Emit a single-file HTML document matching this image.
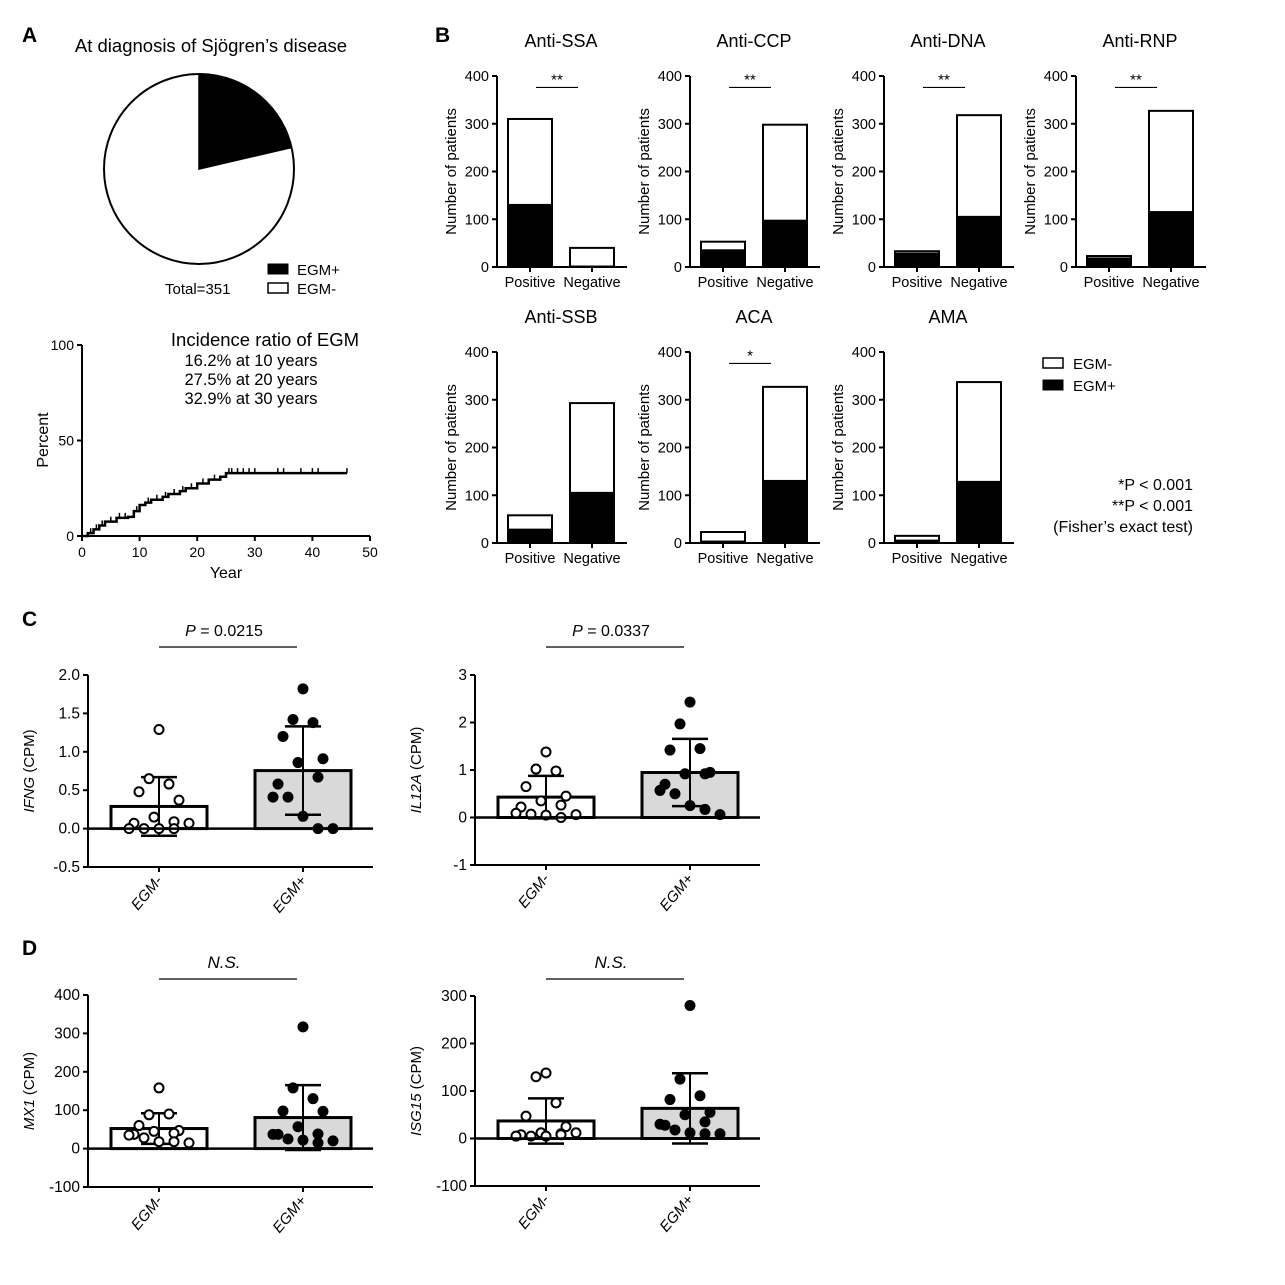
<!DOCTYPE html>
<html><head><meta charset="utf-8"><style>
body{margin:0;background:#fff}
svg{display:block;font-family:"Liberation Sans",Arial,sans-serif}
</style></head><body>
<svg id="fig" width="1285" height="1285" viewBox="0 0 1285 1285">
<rect width="1285" height="1285" fill="#fff"/>
<text x="22" y="42" font-size="21" font-weight="bold">A</text>
<text x="435" y="42" font-size="21" font-weight="bold">B</text>
<text x="22" y="626" font-size="21" font-weight="bold">C</text>
<text x="22" y="955" font-size="21" font-weight="bold">D</text>
<text x="211" y="52" font-size="18.5" text-anchor="middle">At diagnosis of Sjögren’s disease</text>
<text x="165" y="294" font-size="15">Total=351</text>
<rect x="268" y="264" width="20" height="10" fill="#000" stroke="#000"/>
<text x="297" y="275" font-size="15">EGM+</text>
<rect x="268" y="283" width="20" height="10" fill="#fff" stroke="#000" stroke-width="1.5"/>
<text x="297" y="294" font-size="15">EGM-</text>
<g id="pie"></g>
<g id="km"></g>
<g id="bars"></g>
<g id="dots"></g>
<rect x="1043" y="358" width="20" height="10" fill="#fff" stroke="#000" stroke-width="1.5"/>
<text x="1073" y="369" font-size="15">EGM-</text>
<rect x="1043" y="380" width="20" height="10" fill="#000" stroke="#000"/>
<text x="1073" y="391" font-size="15">EGM+</text>
<text x="1193" y="490" font-size="16" text-anchor="end">*P &lt; 0.001</text>
<text x="1193" y="511" font-size="16" text-anchor="end">**P &lt; 0.001</text>
<text x="1193" y="532" font-size="16" text-anchor="end">(Fisher’s exact test)</text>
</svg>
<script>
const NS="http://www.w3.org/2000/svg";
// ---- data ----
const pieTotal=351;
const pieEgmPos=75;
const kmYears=[1,2,3,4,6,8,9,10,11,12,14,15,17,18,20,22,24,25];
const kmPercent=[1.5,3.5,5.5,7.5,9.5,10,13,16.2,17.5,19,20.5,22,23.5,25,27.5,29.5,31,32.9];
const kmEnd=46;
const kmCensor=[1.5,2.5,3.5,5,6.5,7.5,9.5,11.5,13,14.5,16,17.5,19,21,23,25.5,26,27,28,29,30,34,35,38,40,41,46];
const abNames=["Anti-SSA","Anti-CCP","Anti-DNA","Anti-RNP","Anti-SSB","ACA","AMA"];
const abPosTotal=[310,53,33,23,58,23,15];
const abPosEgm=[130,35,28,18,28,3,5];
const abNegTotal=[40,298,318,327,293,327,337];
const abNegEgm=[1,97,105,115,105,130,128];
const abSig=["**","**","**","**","","*",""];
const ifngNeg=[1.29,0.65,0.58,0.48,0.37,0.15,0.09,0.07,0,0,0,0,0.07];
const ifngPos=[1.82,1.42,1.38,1.2,0.91,0.86,0.67,0.58,0.41,0.41,0.16,0,0];
const il12Neg=[1.38,1.02,0.98,0.65,0.45,0.35,0.26,0.22,0.09,0.07,0.05,0,0.06];
const il12Pos=[2.43,1.97,1.45,1.42,0.95,0.92,0.92,0.7,0.57,0.5,0.25,0.17,0.06];
const mx1Neg=[158,88,90,60,47,45,40,37,35,28,18,18,15];
const mx1Pos=[317,158,130,98,97,57,38,37,37,25,22,15,20];
const isgNeg=[138,130,75,47,25,12,10,8,5,5,5,8,12];
const isgPos=[280,125,90,82,55,50,35,28,30,18,12,10,10];
const dotTitles=["P = 0.0215","P = 0.0337","N.S.","N.S."];
// ---- helpers ----
function el(p,t,a){const e=document.createElementNS(NS,t);for(const k in a)e.setAttribute(k,a[k]);p.appendChild(e);return e;}
function txt(p,x,y,s,size,anchor,extra){const e=el(p,"text",Object.assign({x:x,y:y,"font-size":size,"text-anchor":anchor||"middle"},extra||{}));e.textContent=s;return e;}
// ---- pie ----
(function(){
 const g=document.getElementById("pie");const cx=199,cy=169,r=95;
 const a=pieEgmPos/pieTotal*2*Math.PI;
 const c=el(g,"circle",{cx:cx,cy:cy,r:r,fill:"#fff",stroke:"#000","stroke-width":2});
 
 const ex=cx+r*Math.sin(a),ey=cy-r*Math.cos(a);
 const p=el(g,"path",{d:`M${cx},${cy}L${cx},${cy-r}A${r},${r} 0 ${a>Math.PI?1:0} 1 ${ex},${ey}Z`,fill:"#000",stroke:"#000","stroke-width":1.5});
 
})();
// ---- KM ----
(function(){
 const g=document.getElementById("km");
 const x0=82,x1=370,y0=536,y1=345;
 const X=v=>x0+(x1-x0)*v/50, Y=v=>y0-(y0-y1)*v/100;
 el(g,"path",{d:`M${x0},${y1}V${y0}H${x1}`,fill:"none",stroke:"#000","stroke-width":2});
 [0,50,100].forEach(v=>{el(g,"line",{x1:x0-5,x2:x0,y1:Y(v),y2:Y(v),stroke:"#000","stroke-width":2});txt(g,x0-8,Y(v)+5,v,14,"end");});
 [0,10,20,30,40,50].forEach(v=>{el(g,"line",{x1:X(v),x2:X(v),y1:y0,y2:y0+5,stroke:"#000","stroke-width":2});txt(g,X(v),y0+21,v,14);});
 txt(g,226,578,"Year",16);
 txt(g,0,0,"Percent",16,"middle",{transform:`translate(48,440) rotate(-90)`});
 let d=`M${X(0)},${Y(0)}`;
 kmYears.forEach((yr,i)=>{d+=`H${X(yr)}V${Y(kmPercent[i])}`;});
 d+=`H${X(kmEnd)}`;
 const path=el(g,"path",{d:d,fill:"none",stroke:"#000","stroke-width":2.5});
 
 kmCensor.forEach(c=>{let v=0;kmYears.forEach((yr,i)=>{if(c>=yr)v=kmPercent[i];});el(g,"line",{x1:X(c),x2:X(c),y1:Y(v),y2:Y(v)-5,stroke:"#000","stroke-width":1.5});});
 txt(g,265,346,"Incidence ratio of EGM",18.5);
 txt(g,251,366,"16.2% at 10 years",16.5);txt(g,251,385,"27.5% at 20 years",16.5);txt(g,251,404,"32.9% at 30 years",16.5);
})();
// ---- bar charts ----
(function(){
 const G=document.getElementById("bars");
 const axX=[497,690,884,1076,497,690,884];
 const base=[267,267,267,267,543,543,543];
 abNames.forEach((nm,i)=>{
  const g=el(G,"g",{});
  
  
  const ax=axX[i],b=base[i],k=191/400,Y=v=>b-v*k;
  txt(g,ax+64,b-220,nm,18);
  el(g,"path",{d:`M${ax},${Y(400)}V${b}H${ax+130}`,fill:"none",stroke:"#000","stroke-width":2});
  [0,100,200,300,400].forEach(v=>{el(g,"line",{x1:ax-5,x2:ax,y1:Y(v),y2:Y(v),stroke:"#000","stroke-width":2});txt(g,ax-8,Y(v)+5,v,14.5,"end");});
  txt(g,0,0,"Number of patients",15,"middle",{transform:`translate(${ax-41},${Y(200)}) rotate(-90)`});
  const cs=[ax+33,ax+95];const tot=[abPosTotal[i],abNegTotal[i]],egm=[abPosEgm[i],abNegEgm[i]];
  ["positive","negative"].forEach((lab,j)=>{
   el(g,"line",{x1:cs[j],x2:cs[j],y1:b,y2:b+5,stroke:"#000","stroke-width":2});
   txt(g,cs[j],b+20,j?"Negative":"Positive",14.5);
   const w=el(g,"rect",{x:cs[j]-22,y:Y(tot[j]),width:44,height:tot[j]*k,fill:"#fff",stroke:"#000","stroke-width":2});
   
   const bl=el(g,"rect",{x:cs[j]-22,y:Y(egm[j]),width:44,height:egm[j]*k,fill:"#000",stroke:"#000","stroke-width":2});
   
  });
  if(abSig[i]){el(g,"line",{x1:ax+39,x2:ax+81,y1:Y(376),y2:Y(376),stroke:"#000","stroke-width":1.2});txt(g,ax+60,Y(382),abSig[i],15);}
 });
})();
// ---- dot plots ----
(function(){
 const G=document.getElementById("dots");
 const cfgs=[
  {ax:88,top:675,bot:867,max:2,min:-0.5,ticks:[2,1.5,1,0.5,0,-0.5],fmt:v=>v.toFixed(1),gene:"IFNG",neg:ifngNeg,pos:ifngPos,sy:630},
  {ax:475,top:675,bot:865,max:3,min:-1,ticks:[3,2,1,0,-1],fmt:v=>String(v),gene:"IL12A",neg:il12Neg,pos:il12Pos,sy:630},
  {ax:88,top:995,bot:1187,max:400,min:-100,ticks:[400,300,200,100,0,-100],fmt:v=>String(v),gene:"MX1",neg:mx1Neg,pos:mx1Pos,sy:962},
  {ax:475,top:996,bot:1186,max:300,min:-100,ticks:[300,200,100,0,-100],fmt:v=>String(v),gene:"ISG15",neg:isgNeg,pos:isgPos,sy:962}];
 const jit=[0,-10,10,-20,20,-5,15,-25,-30,-15,0,15,30];
 cfgs.forEach((c,i)=>{
  const g=el(G,"g",{});
  
  
  const Y=v=>c.top+(c.max-v)*(c.bot-c.top)/(c.max-c.min);
  const right=c.ax+285,cs=[c.ax+71,c.ax+215];
  el(g,"path",{d:`M${c.ax},${c.top}V${c.bot}H${right}`,fill:"none",stroke:"#000","stroke-width":2});
  c.ticks.forEach(v=>{el(g,"line",{x1:c.ax-5,x2:c.ax,y1:Y(v),y2:Y(v),stroke:"#000","stroke-width":2});txt(g,c.ax-8,Y(v)+5,c.fmt(v),15.5,"end");});
  const lab=txt(g,0,0,"",15,"middle",{transform:`translate(${c.ax-54},${Y((c.max+c.min)/2)}) rotate(-90)`});
  const it=el(lab,"tspan",{"font-style":"italic"});it.textContent=c.gene;
  const t2=el(lab,"tspan",{});t2.textContent=" (CPM)";
  [c.neg,c.pos].forEach((arr,j)=>{
   const mean=arr.reduce((a,b)=>a+b,0)/arr.length;
   const sd=Math.sqrt(arr.reduce((a,b)=>a+(b-mean)**2,0)/(arr.length-1));
   const x=cs[j];
   const r=el(g,"rect",{x:x-48,y:Y(mean),width:96,height:Y(0)-Y(mean),fill:j?"#d9d9d9":"#fff",stroke:"#000","stroke-width":3});
   
   el(g,"line",{x1:x,x2:x,y1:Y(mean+sd),y2:Y(mean-sd),stroke:"#000","stroke-width":2});
   el(g,"line",{x1:x-18,x2:x+18,y1:Y(mean+sd),y2:Y(mean+sd),stroke:"#000","stroke-width":2.5});
   el(g,"line",{x1:x-18,x2:x+18,y1:Y(mean-sd),y2:Y(mean-sd),stroke:"#000","stroke-width":2.5});
   el(g,"line",{x1:x,x2:x,y1:c.bot,y2:c.bot+5,stroke:"#000","stroke-width":2});
   txt(g,0,0,j?"EGM+":"EGM-",15,"end",{transform:`translate(${x+4},${c.bot+14}) rotate(-50)`,"font-style":"italic"});
   arr.forEach((v,k)=>{const d=el(g,"circle",{cx:x+jit[k],cy:Y(v),r:4.5,fill:j?"#000":"#fff",stroke:"#000","stroke-width":2});
    });
  });
  el(g,"line",{x1:c.ax,x2:right,y1:Y(0),y2:Y(0),stroke:"#000","stroke-width":2.5});
  el(g,"line",{x1:cs[0],x2:cs[1]-6,y1:c.sy+17,y2:c.sy+17,stroke:"#000","stroke-width":1.2});
  const s=c.ax+136;
  if(dotTitles[i].startsWith("P")){const t=txt(g,s,c.sy+6,"",16);const a=el(t,"tspan",{"font-style":"italic"});a.textContent="P";const b=el(t,"tspan",{});b.textContent=dotTitles[i].slice(1);}
  else txt(g,s,c.sy+6,dotTitles[i],17,"middle",{"font-style":"italic"});
 });
})();
</script>
</body></html>
